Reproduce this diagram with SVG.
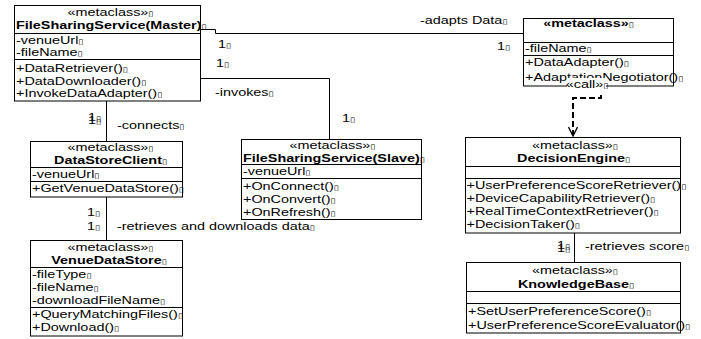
<svg xmlns="http://www.w3.org/2000/svg" width="701" height="339" viewBox="0 0 701 339">
<defs>
<style>
.b{fill:#fff;stroke:#000;stroke-width:1}
.d{fill:none;stroke:#000;stroke-width:1}
.t{font-family:"Liberation Sans",Arial,sans-serif;font-size:11px;fill:#000}
.bd{font-weight:bold}
.m{text-anchor:middle}
.g{font-family:"DejaVu Sans",sans-serif;font-size:7px}
.c{fill:none;stroke:#000;stroke-width:1}
.dash{fill:none;stroke:#000;stroke-width:2;stroke-dasharray:6 3}
</style>
<marker id="open" markerWidth="12" markerHeight="10" refX="10" refY="5" orient="auto" markerUnits="userSpaceOnUse">
<path d="M1,0.5 L10,5 L1,9.5" fill="none" stroke="#000" stroke-width="1.3"/>
</marker>
</defs>
<rect width="701" height="339" fill="#fff"/>

<g id="master">
<rect class="b" x="14.5" y="5.5" width="186" height="95.5"/>
<path class="d" d="M14.5,33.5 H200.5 M14.5,59.5 H200.5"/>
<text class="t m" transform="matrix(1.31 0 0 1 110.5 16)">«metaclass»<tspan class="g">▯</tspan></text>
<text class="t bd" transform="matrix(1.31 0 0 1 16 29)">FileSharingService(Master)<tspan class="g">▯</tspan></text>
<text class="t" transform="matrix(1.31 0 0 1 16 44)">-venueUrl<tspan class="g">▯</tspan></text>
<text class="t" transform="matrix(1.31 0 0 1 16 56)">-fileName<tspan class="g">▯</tspan></text>
<text class="t" transform="matrix(1.31 0 0 1 16 72)">+DataRetriever()<tspan class="g">▯</tspan></text>
<text class="t" transform="matrix(1.31 0 0 1 16 85)">+DataDownloader()<tspan class="g">▯</tspan></text>
<text class="t" transform="matrix(1.31 0 0 1 16 97)">+InvokeDataAdapter()<tspan class="g">▯</tspan></text>
</g>

<g id="adapter">
<rect class="b" x="523.5" y="18.5" width="150" height="67.5"/>
<path class="d" d="M523.5,42.5 H673.5 M523.5,55.5 H673.5"/>
<text class="t bd m" transform="matrix(1.31 0 0 1 588.5 27)">«metaclass»<tspan class="g">▯</tspan></text>
<text class="t" transform="matrix(1.31 0 0 1 525 52)">-fileName<tspan class="g">▯</tspan></text>
<text class="t" transform="matrix(1.31 0 0 1 525 66)">+DataAdapter()<tspan class="g">▯</tspan></text>
<text class="t" transform="matrix(1.31 0 0 1 525 81)">+AdaptationNegotiator()<tspan class="g">▯</tspan></text>
</g>

<g id="datastoreclient">
<rect class="b" x="30.5" y="141.5" width="152" height="55.5"/>
<path class="d" d="M30.5,167.5 H182.5 M30.5,181.5 H182.5"/>
<text class="t m" transform="matrix(1.31 0 0 1 110.5 151)">«metaclass»<tspan class="g">▯</tspan></text>
<text class="t bd m" transform="matrix(1.31 0 0 1 110.5 164)">DataStoreClient<tspan class="g">▯</tspan></text>
<text class="t" transform="matrix(1.31 0 0 1 32 178)">-venueUrl<tspan class="g">▯</tspan></text>
<text class="t" transform="matrix(1.31 0 0 1 32 192)">+GetVenueDataStore()<tspan class="g">▯</tspan></text>
</g>

<g id="venuedatastore">
<rect class="b" x="30.5" y="240.5" width="152" height="95.5"/>
<path class="d" d="M30.5,267.5 H182.5 M30.5,307.5 H182.5"/>
<text class="t m" transform="matrix(1.31 0 0 1 110.5 251)">«metaclass»<tspan class="g">▯</tspan></text>
<text class="t bd m" transform="matrix(1.31 0 0 1 109 264)">VenueDataStore<tspan class="g">▯</tspan></text>
<text class="t" transform="matrix(1.31 0 0 1 32 278)">-fileType<tspan class="g">▯</tspan></text>
<text class="t" transform="matrix(1.31 0 0 1 32 291)">-fileName<tspan class="g">▯</tspan></text>
<text class="t" transform="matrix(1.31 0 0 1 32 304)">-downloadFileName<tspan class="g">▯</tspan></text>
<text class="t" transform="matrix(1.31 0 0 1 32 318)">+QueryMatchingFiles()<tspan class="g">▯</tspan></text>
<text class="t" transform="matrix(1.31 0 0 1 32 331)">+Download()<tspan class="g">▯</tspan></text>
</g>

<g id="slave">
<rect class="b" x="241.5" y="139.5" width="180" height="80"/>
<path class="d" d="M241.5,164.5 H421.5 M241.5,178.5 H421.5"/>
<text class="t m" transform="matrix(1.31 0 0 1 332.5 149)">«metaclass»<tspan class="g">▯</tspan></text>
<text class="t bd" transform="matrix(1.31 0 0 1 243 162)">FileSharingService(Slave)<tspan class="g">▯</tspan></text>
<text class="t" transform="matrix(1.31 0 0 1 243 175)">-venueUrl<tspan class="g">▯</tspan></text>
<text class="t" transform="matrix(1.31 0 0 1 243 190)">+OnConnect()<tspan class="g">▯</tspan></text>
<text class="t" transform="matrix(1.31 0 0 1 243 203)">+OnConvert()<tspan class="g">▯</tspan></text>
<text class="t" transform="matrix(1.31 0 0 1 243 216)">+OnRefresh()<tspan class="g">▯</tspan></text>
</g>

<g id="decisionengine">
<rect class="b" x="465.5" y="137.5" width="215" height="95.5"/>
<path class="d" d="M465.5,166.5 H680.5 M465.5,178.5 H680.5"/>
<text class="t m" transform="matrix(1.31 0 0 1 575 149)">«metaclass»<tspan class="g">▯</tspan></text>
<text class="t bd m" transform="matrix(1.31 0 0 1 573.5 162)">DecisionEngine<tspan class="g">▯</tspan></text>
<text class="t" transform="matrix(1.31 0 0 1 466.5 189)">+UserPreferenceScoreRetriever()<tspan class="g">▯</tspan></text>
<text class="t" transform="matrix(1.31 0 0 1 466.5 202)">+DeviceCapabilityRetriever()<tspan class="g">▯</tspan></text>
<text class="t" transform="matrix(1.31 0 0 1 466.5 215)">+RealTimeContextRetriever()<tspan class="g">▯</tspan></text>
<text class="t" transform="matrix(1.31 0 0 1 466.5 228)">+DecisionTaker()<tspan class="g">▯</tspan></text>
</g>

<g id="knowledgebase">
<rect class="b" x="466.5" y="262.5" width="214" height="70.5"/>
<path class="d" d="M466.5,291.5 H680.5 M466.5,303.5 H680.5"/>
<text class="t m" transform="matrix(1.31 0 0 1 575 274)">«metaclass»<tspan class="g">▯</tspan></text>
<text class="t bd m" transform="matrix(1.31 0 0 1 576 288)">KnowledgeBase<tspan class="g">▯</tspan></text>
<text class="t" transform="matrix(1.31 0 0 1 468 315)">+SetUserPreferenceScore()<tspan class="g">▯</tspan></text>
<text class="t" transform="matrix(1.31 0 0 1 468 329)">+UserPreferenceScoreEvaluator()<tspan class="g">▯</tspan></text>
</g>

<g id="connectors">
<path class="c" d="M200.5,29.5 H215.5 V33.5 H523.5"/>
<path class="c" d="M200.5,78.5 H329.5 V139.5"/>
<path class="c" d="M106.5,101 V141.5"/>
<path class="c" d="M106.5,197 V240.5"/>
<path class="c" d="M574.5,233 V262.5"/>
<path class="dash" d="M601,86 V98 H573 V136" marker-end="url(#open)"/>
<rect x="567" y="78" width="39" height="14" fill="#fff"/>
<text class="t m" transform="matrix(1.31 0 0 1 587 88)">«call»<tspan class="g">▯</tspan></text>
<text class="t" transform="matrix(1.31 0 0 1 420 24)">-adapts Data<tspan class="g">▯</tspan></text>
<text class="t" transform="matrix(1.31 0 0 1 218 48)">1<tspan class="g">▯</tspan></text>
<text class="t" transform="matrix(1.31 0 0 1 216 67)">1<tspan class="g">▯</tspan></text>
<text class="t" transform="matrix(1.31 0 0 1 497 50)">1<tspan class="g">▯</tspan></text>
<text class="t" transform="matrix(1.31 0 0 1 215 96)">-invokes<tspan class="g">▯</tspan></text>
<text class="t" transform="matrix(1.31 0 0 1 342 122)">1<tspan class="g">▯</tspan></text>
<text class="t" transform="matrix(1.31 0 0 1 88 121)">1<tspan class="g">▯</tspan><tspan x="0" y="3">1</tspan><tspan class="g">▯</tspan></text>
<text class="t" transform="matrix(1.31 0 0 1 117 129)">-connects<tspan class="g">▯</tspan></text>
<text class="t" transform="matrix(1.31 0 0 1 87 216)">1<tspan class="g">▯</tspan></text>
<text class="t" transform="matrix(1.31 0 0 1 87 230)">1<tspan class="g">▯</tspan></text>
<text class="t" transform="matrix(1.31 0 0 1 117 230)">-retrieves and downloads data<tspan class="g">▯</tspan></text>
<text class="t" transform="matrix(1.31 0 0 1 557 249)">1<tspan class="g">▯</tspan><tspan x="0" y="3">1</tspan><tspan class="g">▯</tspan></text>
<text class="t" transform="matrix(1.31 0 0 1 585 250)">-retrieves score<tspan class="g">▯</tspan></text>
</g>
</svg>
